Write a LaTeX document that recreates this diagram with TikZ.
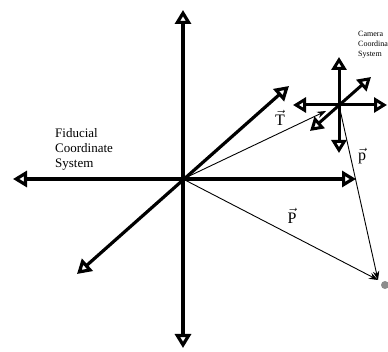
\documentclass[tikz,border=0pt]{standalone}
\usepackage{fontspec}
\setmainfont{Liberation Serif}
\usetikzlibrary{arrows.meta}
\begin{document}
\begin{tikzpicture}[x=1pt,y=-1pt,
  axis/.style={line width=3.2pt,{Triangle[fill=white,length=14pt,width=16pt]}-{Triangle[fill=white,length=14pt,width=16pt]}},
  caxis/.style={line width=3pt,{Triangle[fill=white,length=13pt,width=15pt]}-{Triangle[fill=white,length=13pt,width=15pt]}},
  vec/.style={line width=0.9pt,-{Stealth[length=9pt,width=6.5pt]}},
  lbl/.style={font=\fontsize{16}{16}\selectfont, inner sep=0pt}]
\useasboundingbox (0,0) rectangle (388,352);
% fiducial axes
\coordinate (O) at (183,179);
\coordinate (X1) at (13,179);
\coordinate (X2) at (356,179);
\coordinate (Y1) at (183,10);
\coordinate (Y2) at (183,348);
\coordinate (D1) at (77,274);
\coordinate (D2) at (289,86);
\draw[axis] (X1) -- (X2);
\draw[axis] (Y1) -- (Y2);
\draw[axis] (D1) -- (D2);
% camera axes
\coordinate (C) at (339,105);
\coordinate (CX1) at (293,105);
\coordinate (CX2) at (387,105);
\coordinate (CY1) at (339,57);
\coordinate (CY2) at (339,153);
\coordinate (CD1) at (310,131);
\coordinate (CD2) at (371,77);
\draw[caxis] (CX1) -- (CX2);
\draw[caxis] (CY1) -- (CY2);
\draw[caxis] (CD1) -- (CD2);
% point
\node[circle, fill=gray!90, inner sep=0pt, minimum size=8pt] (pt) at (385,285) {};
\coordinate (Ptip) at (378,280);
\coordinate (Ttip) at (326,111);
% vectors
\draw[vec] (O) -- (Ttip);
\draw[vec] (O) -- (Ptip);
\draw[vec] (C) -- (Ptip);
% labels
\node[lbl] (Tl) at (280,118) {$\vec{\mathrm{T}}$};
\node[lbl] (pl) at (362,156) {$\vec{\mathrm{p}}$};
\node[lbl] (Pl) at (292,216) {$\vec{\mathrm{P}}$};
\node[anchor=north west, inner sep=0pt, align=left, font=\fontsize{13}{15}\selectfont] (fid) at (55,128.5) {Fiducial\\Coordinate\\System};
\node[anchor=north west, inner sep=0pt, align=left, font=\fontsize{8}{10}\selectfont] (cam) at (358,31.5) {Camera\\Coordinate\\System};
\end{tikzpicture}
\end{document}
